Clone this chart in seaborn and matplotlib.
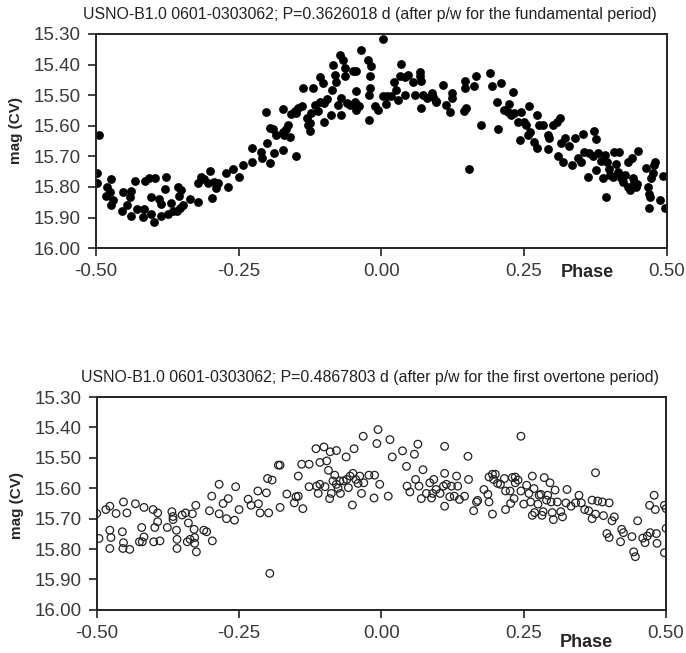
import numpy as np
import pandas as pd
import seaborn as sns
from matplotlib import pyplot as plt
from matplotlib.ticker import MultipleLocator, FormatStrFormatter

# fundamental period fold (filled dots)
phase_fund = [
    -0.495, -0.498, -0.498, -0.48, -0.473, -0.475, -0.482, -0.47, -0.474, -0.455,
    -0.452, -0.446, -0.438, -0.44, -0.432, -0.428, -0.438, -0.416, -0.417, -0.414,
    -0.408, -0.403, -0.399, -0.397, -0.403, -0.39, -0.386, -0.386, -0.378, -0.38,
    -0.374, -0.368, -0.366, -0.357, -0.355, -0.351, -0.353, -0.348, -0.359, -0.336,
    -0.322, -0.322, -0.316, -0.31, -0.301, -0.304, -0.297, -0.293, -0.289, -0.287,
    -0.273, -0.269, -0.26, -0.249, -0.243, -0.226, -0.226, -0.211, -0.209, -0.203,
    -0.201, -0.195, -0.195, -0.19, -0.188, -0.184,
    -0.172, -0.15, -0.172, -0.167, -0.164, -0.161, -0.17, -0.172, -0.159, -0.152,
    -0.146, -0.14, -0.149, -0.137, -0.131, -0.128, -0.126, -0.125, -0.123, -0.12,
    -0.117, -0.111, -0.108, -0.102, -0.108, -0.1, -0.101, -0.096, -0.088, -0.086,
    -0.085, -0.081, -0.079, -0.076, -0.073, -0.071, -0.068, -0.064, -0.064, -0.07,
    -0.061, -0.055, -0.05, -0.044, -0.045, -0.047, -0.044, -0.04, -0.035, -0.023,
    -0.019, -0.02, -0.02, -0.022, -0.022, -0.012, -0.006, 0.002, 0.003, 0.009,
    0.008, 0.016, 0.026, 0.022, 0.029, 0.034, 0.032, 0.041, 0.041, 0.047,
    0.055, 0.058, 0.067, 0.068, 0.069, 0.07, 0.073, 0.079, 0.088, 0.091,
    0.095, 0.096, 0.108, 0.114, 0.12, 0.123, 0.124, 0.144, 0.146, 0.146,
    0.154, 0.149,
    0.162, 0.165, 0.175, 0.19, 0.194, 0.209, 0.203, 0.204, 0.215, 0.224,
    0.23, 0.221, 0.227, 0.232, 0.239, 0.244, 0.242, 0.25, 0.253, 0.259,
    0.256, 0.261, 0.268, 0.272, 0.276, 0.272, 0.283, 0.292, 0.293, 0.292,
    0.3, 0.308, 0.313, 0.314, 0.321, 0.309, 0.319, 0.328, 0.334, 0.34,
    0.345, 0.354, 0.35, 0.355, 0.362, 0.364, 0.373, 0.376, 0.37, 0.376,
    0.379, 0.385, 0.388, 0.391, 0.394, 0.395, 0.399, 0.401, 0.405, 0.408,
    0.411, 0.414, 0.417, 0.419, 0.423, 0.426, 0.432, 0.432, 0.435, 0.439,
    0.44, 0.443, 0.449, 0.446, 0.448, 0.463, 0.467, 0.469, 0.47, 0.468,
    0.472, 0.475, 0.477, 0.479, 0.488, 0.493, 0.497,
]
mag_fund = [
    15.63, 15.756, 15.786, 15.80, 15.775, 15.816, 15.83, 15.844, 15.86, 15.879,
    15.816, 15.86, 15.813, 15.833, 15.78, 15.871, 15.895, 15.871, 15.898, 15.78,
    15.772, 15.833, 15.913, 15.77, 15.888, 15.84, 15.855, 15.894, 15.767, 15.807,
    15.887, 15.852, 15.88, 15.80, 15.83, 15.81, 15.869, 15.86, 15.877, 15.84,
    15.85, 15.786, 15.767, 15.775, 15.749, 15.786, 15.836, 15.783, 15.805, 15.787,
    15.753, 15.80, 15.742, 15.768, 15.729, 15.718, 15.672, 15.685, 15.707, 15.556,
    15.658, 15.723, 15.606, 15.61, 15.69, 15.63,
    15.68, 15.70, 15.62, 15.609, 15.598, 15.636, 15.63, 15.546, 15.563, 15.551,
    15.543, 15.537, 15.559, 15.477, 15.576, 15.598, 15.617, 15.592, 15.559, 15.477,
    15.532, 15.551, 15.442, 15.461, 15.521, 15.526, 15.589, 15.512, 15.565, 15.484,
    15.40, 15.433, 15.458, 15.532, 15.368, 15.565, 15.384, 15.439, 15.412, 15.508,
    15.526, 15.532, 15.42, 15.42, 15.486, 15.521, 15.548, 15.537, 15.351, 15.384,
    15.406, 15.436, 15.477, 15.501, 15.581, 15.537, 15.548, 15.315, 15.502, 15.502,
    15.53, 15.502, 15.484, 15.458, 15.516, 15.397, 15.439, 15.50, 15.442, 15.434,
    15.458, 15.501, 15.425, 15.439, 15.453, 15.541, 15.501, 15.508, 15.494, 15.505,
    15.519, 15.523, 15.466, 15.532, 15.556, 15.494, 15.51, 15.551, 15.477, 15.453,
    15.74, 15.543,
    15.47, 15.439, 15.598, 15.428, 15.47, 15.461, 15.523, 15.611, 15.548, 15.53,
    15.491, 15.556, 15.565, 15.559, 15.587, 15.556, 15.647, 15.587, 15.598, 15.537,
    15.63, 15.619, 15.652, 15.565, 15.598, 15.672, 15.598, 15.63, 15.641, 15.677,
    15.598, 15.587, 15.576, 15.658, 15.641, 15.698, 15.718, 15.665, 15.729, 15.641,
    15.707, 15.628, 15.718, 15.687, 15.767, 15.69, 15.617, 15.644, 15.698, 15.745,
    15.69, 15.716, 15.772, 15.694, 15.833, 15.718, 15.74, 15.76, 15.767, 15.685,
    15.726, 15.75, 15.685, 15.772, 15.783, 15.76, 15.80, 15.72, 15.811, 15.707,
    15.772, 15.783, 15.683, 15.80, 15.789, 15.737, 15.80, 15.822, 15.833, 15.869,
    15.772, 15.756, 15.727, 15.718, 15.844, 15.764, 15.869,
]

# first overtone fold (open circles)
phase_ot = [
    -0.5, -0.496, -0.484, -0.477, -0.477, -0.475, -0.477, -0.466, -0.455, -0.453,
    -0.454, -0.453, -0.447, -0.442, -0.432, -0.425, -0.421, -0.42, -0.417, -0.417,
    -0.401, -0.4, -0.398, -0.393, -0.393, -0.389, -0.376, -0.368, -0.366, -0.366,
    -0.36, -0.359, -0.359, -0.35, -0.344, -0.341, -0.339, -0.336, -0.332, -0.329,
    -0.328, -0.328, -0.326, -0.325, -0.312, -0.307, -0.302, -0.298, -0.297, -0.285,
    -0.285, -0.278, -0.272, -0.269, -0.258, -0.256, -0.25, -0.234, -0.229, -0.217,
    -0.216, -0.213, -0.202, -0.2, -0.198, -0.196, -0.192, -0.181, -0.178,
    -0.178, -0.166, -0.153, -0.15, -0.146, -0.146, -0.14, -0.138, -0.127, -0.127,
    -0.115, -0.114, -0.111, -0.108, -0.108, -0.101, -0.099, -0.096, -0.093, -0.091,
    -0.09, -0.088, -0.085, -0.082, -0.079, -0.079, -0.076, -0.073, -0.072, -0.067,
    -0.062, -0.061, -0.058, -0.055, -0.051, -0.05, -0.048, -0.045, -0.041, -0.038,
    -0.035, -0.032, -0.031, -0.022, -0.012, -0.013, -0.008, -0.006, -0.003, 0.012,
    0.015, 0.019, 0.037, 0.044, 0.045, 0.05, 0.058, 0.06, 0.064, 0.066,
    0.07, 0.073, 0.079, 0.085, 0.088, 0.09, 0.092, 0.096, 0.103, 0.109,
    0.111, 0.111, 0.111, 0.114, 0.12, 0.123, 0.128, 0.132, 0.134, 0.137,
    0.146, 0.152, 0.153,
    0.162, 0.167, 0.169, 0.18, 0.187, 0.189, 0.189, 0.195, 0.195, 0.197,
    0.2, 0.204, 0.209, 0.216, 0.218, 0.218, 0.226, 0.227, 0.23, 0.233,
    0.235, 0.235, 0.24, 0.245, 0.245, 0.25, 0.255, 0.259, 0.262, 0.265,
    0.265, 0.268, 0.269, 0.275, 0.277, 0.28, 0.282, 0.284, 0.286, 0.29,
    0.292, 0.296, 0.298, 0.3, 0.302, 0.305, 0.309, 0.315, 0.318, 0.324,
    0.326, 0.333, 0.341, 0.347, 0.351, 0.357, 0.364, 0.37, 0.37, 0.376,
    0.376, 0.38, 0.388, 0.39, 0.396, 0.4, 0.4, 0.405, 0.409, 0.42,
    0.422, 0.425, 0.44, 0.443, 0.446, 0.45, 0.459, 0.463, 0.467, 0.472,
    0.471, 0.479, 0.481, 0.483, 0.484, 0.497, 0.5, 0.5, 0.497,
]
mag_ot = [
    15.683, 15.765, 15.67, 15.659, 15.738, 15.762, 15.798, 15.683, 15.743, 15.645,
    15.798, 15.779, 15.681, 15.801, 15.651, 15.776, 15.729, 15.776, 15.76, 15.663,
    15.67, 15.776, 15.729, 15.71, 15.681, 15.773, 15.729, 15.677, 15.693, 15.703,
    15.738, 15.768, 15.798, 15.688, 15.681, 15.776, 15.714, 15.768, 15.684, 15.735,
    15.762, 15.781, 15.656, 15.809, 15.738, 15.743, 15.674, 15.626, 15.773, 15.587,
    15.684, 15.65, 15.70, 15.634, 15.705, 15.595, 15.67, 15.636, 15.656, 15.609,
    15.651, 15.681, 15.615, 15.568, 15.681, 15.88, 15.573, 15.524, 15.663,
    15.524, 15.619, 15.648, 15.628, 15.626, 15.56, 15.521, 15.667, 15.521, 15.595,
    15.47, 15.593, 15.617, 15.515, 15.587, 15.464, 15.595, 15.51, 15.541, 15.634,
    15.48, 15.617, 15.576, 15.557, 15.476, 15.587, 15.60, 15.576, 15.617, 15.576,
    15.497, 15.571, 15.598, 15.56, 15.655, 15.551, 15.47, 15.571, 15.584, 15.56,
    15.617, 15.429, 15.582, 15.557, 15.557, 15.632, 15.453, 15.407, 15.587, 15.626,
    15.44, 15.497, 15.477, 15.528, 15.593, 15.612, 15.488, 15.571, 15.455, 15.593,
    15.634, 15.539, 15.617, 15.582, 15.632, 15.617, 15.571, 15.604, 15.617, 15.593,
    15.462, 15.551, 15.659, 15.587, 15.628, 15.593, 15.626, 15.56, 15.593, 15.637,
    15.626, 15.495, 15.571,
    15.674, 15.645, 15.64, 15.604, 15.62, 15.563, 15.645, 15.685, 15.554, 15.571,
    15.554, 15.584, 15.587, 15.568, 15.609, 15.67, 15.609, 15.65, 15.565, 15.634,
    15.563, 15.582, 15.573, 15.429, 15.609, 15.652, 15.59, 15.617, 15.645, 15.56,
    15.689, 15.601, 15.68, 15.652, 15.623, 15.62, 15.689, 15.677, 15.565, 15.639,
    15.623, 15.582, 15.645, 15.68, 15.703, 15.606, 15.645, 15.677, 15.694, 15.648,
    15.604, 15.659, 15.648, 15.623, 15.648, 15.67, 15.674, 15.639, 15.70, 15.549,
    15.685, 15.642, 15.645, 15.69, 15.749, 15.648, 15.762, 15.707, 15.694, 15.776,
    15.735, 15.746, 15.759, 15.809, 15.825, 15.707, 15.764, 15.779, 15.757, 15.746,
    15.656, 15.623, 15.67, 15.749, 15.781, 15.656, 15.667, 15.732, 15.812,
]

x_ticks = [-0.50, -0.25, 0.00, 0.25, 0.50]
titles = [
    "USNO-B1.0 0601-0303062; P=0.3626018 d (after p/w for the fundamental period)",
    "USNO-B1.0 0601-0303062; P=0.4867803 d (after p/w for the first overtone period)",
]

sns.set_style("ticks")
plt.rcParams['font.family'] = ['Liberation Sans', 'DejaVu Sans']

fund = pd.DataFrame({'phase': phase_fund, 'mag': mag_fund})
ot = pd.DataFrame({'phase': phase_ot, 'mag': mag_ot})

fig = plt.figure(figsize=(6.86, 6.53), dpi=100)
ax1 = fig.add_axes([0.140, 0.620, 0.832, 0.328])
ax2 = fig.add_axes([0.141, 0.066, 0.830, 0.326])

sns.scatterplot(data=fund, x='phase', y='mag', ax=ax1, s=40, color='black',
                edgecolor='black', linewidth=0)
sns.scatterplot(data=ot, x='phase', y='mag', ax=ax2, s=30, facecolor='none',
                edgecolor='#222222', linewidth=0.9)

panels = [(ax1, titles[0], -0.115, 0.547), (ax2, titles[1], -0.155, 0.49)]
for ax, title, phase_y, lab_y in panels:
    ax.set_xlim(-0.5, 0.5)
    ax.set_ylim(16.0, 15.3)
    ax.set_xticks(x_ticks)
    ax.yaxis.set_major_locator(MultipleLocator(0.1))
    ax.xaxis.set_major_formatter(FormatStrFormatter('%.2f'))
    ax.yaxis.set_major_formatter(FormatStrFormatter('%.2f'))
    ax.tick_params(direction='out', length=6, width=1.2, labelsize=13.5,
                   colors='#222222', labelcolor='#3a3a3a', pad=5)
    for sp in ax.spines.values():
        sp.set_visible(True)
        sp.set_linewidth(1.4)
        sp.set_color('#222222')
    ax.set_xlabel('')
    ax.set_ylabel('mag (CV)', fontsize=11, fontweight='bold')
    ax.yaxis.set_label_coords(-0.128, lab_y)
    ax.text(0.86, phase_y, 'Phase', transform=ax.transAxes, ha='center',
            va='center', fontsize=13, fontweight='bold')
    ax.text(0.48, 1.09, title, transform=ax.transAxes, ha='center',
            va='center', fontsize=11.4, color='#222222')

fig.savefig('out.png', dpi=100)
